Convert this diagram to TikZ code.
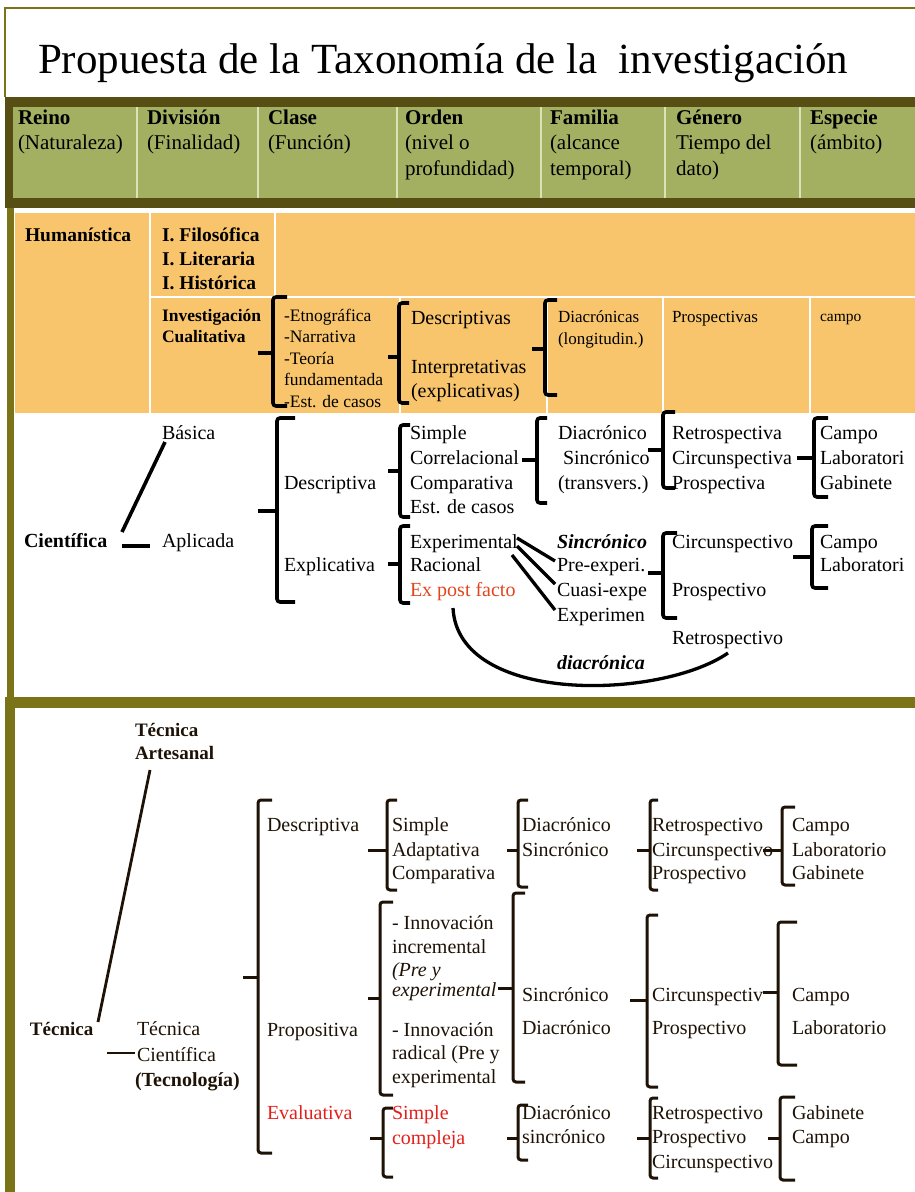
\documentclass[tikz,border=0pt]{standalone}
\usepackage{fontspec}
\setmainfont{Liberation Serif}
\definecolor{oliveB}{HTML}{7B7318}
\definecolor{darkbar}{HTML}{564E12}
\definecolor{hdrgreen}{HTML}{A3B062}
\definecolor{sepc}{HTML}{DCE2B8}
\definecolor{orng}{HTML}{F8C56C}
\definecolor{redA}{HTML}{E2461E}
\definecolor{redB}{HTML}{E3201B}
\definecolor{tecn}{HTML}{1E1206}
\newcommand\fz[1]{\fontsize{#1}{#1}\selectfont}
\newcommand\brak[7][]{%
  \draw[brkline,#1] (#2+#7,#3) -- (#2,#3) -- (#2,#4) -- (#2+#7,#4);
  \draw[brkline,rounded corners=0pt,#1] (#2,#5) -- (#6,#5);}
\tikzset{
  tx/.style={anchor=base west, inner sep=0pt, outer sep=0pt},
  brkline/.style={line width=3.6pt, rounded corners=3pt, black},
  conn/.style={line width=3.3pt, black},
  hd/.style={tx, font=\fz{21}},
  sc/.style={tx, font=\fz{20}},
  tc/.style={tx, font=\fz{20}, text=tecn},
}
\begin{document}
\begin{tikzpicture}[x=1pt,y=-1pt]
\useasboundingbox (0,0) rectangle (915,1192);
\fill[white] (0,0) rectangle (915,1192);
% frames
\draw[oliveB, line width=2pt] (5,97) -- (5,8) -- (915,8);
\fill[darkbar] (5,97) rectangle (915,208);
\fill[hdrgreen] (13,107) rectangle (915,198);
\foreach \x in {137,258,397,541,665,800} \draw[sepc, line width=1.5pt] (\x,107) -- (\x,198);
\fill[oliveB] (7,208) rectangle (14,697);
\fill[orng] (15,213) rectangle (915,413);
\draw[white, line width=2pt] (150,213) -- (150,413);
\draw[white, line width=2pt] (275,213) -- (275,297);
\draw[white, line width=2pt] (150,297) -- (915,297);
\foreach \x in {400,547,663,810} \draw[white, line width=2pt] (\x,297) -- (\x,413);
\fill[oliveB] (5,697) rectangle (915,708);
\fill[oliveB] (5,697) rectangle (15,1192);

% title
\node[tx, font=\fz{43}] (title) at (38,73) {Propuesta de la Taxonomía de la\ \ investigación};

% header
\node[hd] (h1a) at (18,124) {\textbf{Reino}};
\node[hd] (h1b) at (18,149) {(Naturaleza)};
\node[hd] (h2a) at (147,124) {\textbf{División}};
\node[hd] (h2b) at (147,149) {(Finalidad)};
\node[hd] (h3a) at (268,124) {\textbf{Clase}};
\node[hd] (h3b) at (268,149) {(Función)};
\node[hd] (h4a) at (405,124) {\textbf{Orden}};
\node[hd] (h4b) at (405,149) {(nivel o};
\node[hd] (h4c) at (405,175) {profundidad)};
\node[hd] (h5a) at (550,124) {\textbf{Familia}};
\node[hd] (h5b) at (550,149) {(alcance};
\node[hd] (h5c) at (550,175) {temporal)};
\node[hd] (h6a) at (676,124) {\textbf{Género}};
\node[hd] (h6b) at (676,149) {Tiempo del};
\node[hd] (h6c) at (676,175) {dato)};
\node[hd] (h7a) at (810,124) {\textbf{Especie}};
\node[hd] (h7b) at (810,149) {(ámbito)};

% humanistica
\node[tx, font=\fz{19.5}\bfseries] (hum) at (25,241) {Humanística};
\node[tx, font=\fz{19.5}\bfseries] (fil) at (162,241) {I. Filosófica};
\node[tx, font=\fz{19.5}\bfseries] (lit) at (162,265) {I. Literaria};
\node[tx, font=\fz{19.5}\bfseries] (his) at (162,289) {I. Histórica};
\node[tx, font=\fz{17.5}\bfseries] (icu1) at (162,321) {Investigación};
\node[tx, font=\fz{17.5}\bfseries] (icu2) at (162,342) {Cualitativa};
\node[tx, font=\fz{17.5}] (et1) at (284,321) {-Etnográfica};
\node[tx, font=\fz{17.5}] (et2) at (284,342) {-Narrativa};
\node[tx, font=\fz{17.5}] (et3) at (284,364) {-Teoría};
\node[tx, font=\fz{17.5}] (et4) at (284,385) {fundamentada};
\node[tx, font=\fz{17.5}] (et5) at (284,407) {-Est. de casos};
\node[tx, font=\fz{20}] (dsc) at (411,324) {Descriptivas};
\node[tx, font=\fz{20}] (int1) at (411,373) {Interpretativas};
\node[tx, font=\fz{20}] (int2) at (411,397) {(explicativas)};
\node[tx, font=\fz{17}] (dia1) at (558,322) {Diacrónicas};
\node[tx, font=\fz{17}] (dia2) at (558,344) {(longitudin.)};
\node[tx, font=\fz{17}] (pro) at (672,322) {Prospectivas};
\node[tx, font=\fz{15.5}] (cam) at (820,321) {campo};
\brak{273}{297}{406}{353}{258}{14}
\brak{399}{303}{403}{357}{388}{10}
\brak{545}{300}{395}{349}{532}{12}

% cientifica
\node[tx, font=\fz{20}\bfseries] (cie) at (24,547) {Científica};
\node[sc] (bas) at (162,439) {Básica};
\node[sc] (apl) at (162,547) {Aplicada};
\coordinate (c1) at (122,532); \coordinate (c2) at (165,442);
\draw[conn, line width=3.6pt] (c1) -- (c2);
\coordinate (c3) at (122,546); \coordinate (c4) at (150,546);
\draw[conn, line width=4.2pt] (c3) -- (c4);
\brak{277}{418}{602}{511}{258}{18}
\node[sc] (desc) at (284,489) {Descriptiva};
\node[sc] (expl) at (284,571) {Explicativa};
\brak{400}{425}{517}{471}{388}{10}
\node[sc] (s1) at (410,439) {Simple};
\node[sc] (s2) at (410,464) {Correlacional};
\node[sc] (s3) at (410,489) {Comparativa};
\node[sc] (s4) at (410,513) {Est. de casos};
\brak{537}{418}{503}{460}{522}{10}
\node[sc] (f1) at (558,439) {Diacrónico};
\node[sc] (f2) at (563,464) {Sincrónico};
\node[sc] (f3) at (558,489) {(transvers.)};
\brak{663}{412}{488}{450}{648}{12}
\node[sc] (g1) at (672,439) {Retrospectiva};
\node[sc] (g2) at (672,464) {Circunspectiva};
\node[sc] (g3) at (672,489) {Prospectiva};
\brak{814}{418}{497}{458}{797}{14}
\node[sc] (e1) at (820,439) {Campo};
\node[sc] (e2) at (820,464) {Laboratori};
\node[sc] (e3) at (820,489) {Gabinete};
\brak{400}{526}{603}{564}{388}{10}
\node[sc] (x1) at (410,548) {Experimental};
\node[sc] (x2) at (410,571) {Racional};
\node[sc, text=redA] (x3) at (410,596) {Ex post facto};
\node[sc, font=\fz{20}\bfseries\itshape] (sy) at (557,548) {Sincrónico};
\node[sc] (y1) at (557,571) {Pre-experi.};
\node[sc] (y2) at (557,596) {Cuasi-expe};
\node[sc] (y3) at (557,621) {Experimen};
\draw[conn] (517,538) -- (555,561);
\draw[conn] (517,546) -- (555,584);
\draw[conn] (512,555) -- (555,610);
\brak{663}{533}{618}{573}{648}{14}
\node[sc] (z1) at (672,548) {Circunspectivo};
\node[sc] (z2) at (672,596) {Prospectivo};
\node[sc] (z3) at (672,644) {Retrospectivo};
\brak{812}{526}{588}{557}{793}{16}
\node[sc] (w1) at (820,548) {Campo};
\node[sc] (w2) at (820,571) {Laboratori};
\node[sc, font=\fz{20}\bfseries\itshape] (dcr) at (557,669) {diacrónica};
\coordinate (k1) at (453,608); \coordinate (k2) at (728,653);
\draw[conn] (k1) .. controls (458,705) and (660,700) .. (k2);

% tecnica
\begin{scope}
\node[tx, font=\fz{19}\bfseries, text=tecn] (ta1) at (135,736) {Técnica};
\node[tx, font=\fz{19}\bfseries, text=tecn] (ta2) at (135,759) {Artesanal};
\node[tx, font=\fz{19}\bfseries, text=tecn] (tec) at (30,1035) {Técnica};
\node[tc] (tcs1) at (137,1035) {Técnica};
\node[tc] (tcs2) at (137,1061) {Científica};
\node[tc, font=\fz{20}\bfseries] (tcs3) at (135,1086) {(Tecnología)};
\draw[conn, line width=2.8pt, tecn] (150,770) -- (98,1022);
\draw[conn, line width=2.8pt, tecn] (107,1053) -- (135,1053);
\tikzset{brkline/.style={line width=3pt, rounded corners=3pt, tecn}}
\brak{258}{800}{1153}{977}{243}{14}
\node[tc] (td) at (267,831) {Descriptiva};
\node[tc] (tp) at (267,1036) {Propositiva};
\node[tc, text=redB] (tv) at (267,1119) {Evaluativa};
% descriptiva
\brak{387}{800}{890}{850}{368}{10}
\node[tc] (d1) at (392,831) {Simple};
\node[tc] (d2) at (392,856) {Adaptativa};
\node[tc] (d3) at (392,879) {Comparativa};
\brak{518}{800}{887}{850}{507}{10}
\node[tc] (d4) at (522,831) {Diacrónico};
\node[tc] (d5) at (522,856) {Sincrónico};
\brak{650}{800}{890}{850}{637}{8}
\node[tc] (d6) at (652,831) {Retrospectivo};
\node[tc] (d7) at (652,856) {Circunspectivo};
\node[tc] (d8) at (652,879) {Prospectivo};
\brak{782}{807}{885}{850}{763}{13}
\node[tc] (d9) at (792,831) {Campo};
\node[tc] (d10) at (792,856) {Laboratorio};
\node[tc] (d11) at (792,879) {Gabinete};
% propositiva
\brak{380}{902}{1095}{998}{368}{13}
\node[tc] (p1) at (392,929) {- Innovación};
\node[tc] (p2) at (392,953) {incremental};
\node[tc, font=\fz{20}\itshape] (p3) at (392,976) {(Pre y};
\node[tc, font=\fz{20}\itshape] (p4) at (392,996) {experimental};
\node[tc] (p5) at (392,1036) {- Innovación};
\node[tc] (p6) at (392,1059) {radical (Pre y};
\node[tc] (p7) at (392,1083) {experimental};
\brak{513}{893}{1082}{988}{498}{12}
\node[tc] (p8) at (522,1001) {Sincrónico};
\node[tc] (p9) at (522,1034) {Diacrónico};
\brak{647}{915}{1087}{1000}{630}{11}
\node[tc] (p10) at (652,1001) {Circunspectiv};
\node[tc] (p11) at (652,1034) {Prospectivo};
\brak{778}{922}{1065}{992}{763}{19}
\node[tc] (p12) at (792,1001) {Campo};
\node[tc] (p13) at (792,1034) {Laboratorio};
% evaluativa
\brak{383}{1108}{1177}{1138}{370}{10}
\node[tc, text=redB] (v1) at (392,1119) {Simple};
\node[tc, text=redB] (v2) at (392,1144) {compleja};
\brak{518}{1105}{1160}{1138}{507}{10}
\node[tc] (v3) at (522,1119) {Diacrónico};
\node[tc] (v4) at (522,1143) {sincrónico};
\brak{650}{1098}{1178}{1138}{637}{8}
\node[tc] (v5) at (652,1119) {Retrospectivo};
\node[tc] (v6) at (652,1143) {Prospectivo};
\node[tc] (v7) at (652,1168) {Circunspectivo};
\brak{780}{1097}{1180}{1138}{768}{15}
\node[tc] (v8) at (792,1119) {Gabinete};
\node[tc] (v9) at (792,1143) {Campo};
\end{scope}
\end{tikzpicture}
\end{document}
